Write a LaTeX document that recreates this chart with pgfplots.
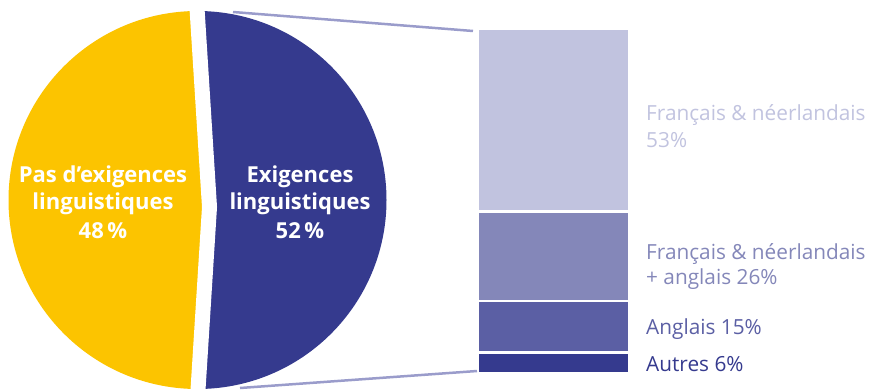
\documentclass[border=0pt]{standalone}
\usepackage{pgfplots}
\pgfplotsset{compat=1.18}
\usepackage{pgfplotstable}
\usepackage{fontspec}
\setmainfont{Open Sans}
\usetikzlibrary{calc}

\definecolor{jaune}{HTML}{FCC400}
\definecolor{bleu}{HTML}{353A8E}
\definecolor{b1}{HTML}{C1C3DF}
\definecolor{b2}{HTML}{8487B9}
\definecolor{b3}{HTML}{5B5FA4}
\definecolor{conn}{HTML}{9A9CCB}

\pgfplotstableread{
cat value
exig 52
pas 48
}\pietable
\pgfplotstableread{
x autres anglais fnang fn
0 6 15 26 53
}\bartable

\begin{document}
\begin{tikzpicture}
\path[use as bounding box] (0,0) rectangle (870pt,389pt);
\pgfplotstablegetelem{0}{value}\of\pietable
\pgfmathsetmacro{\half}{\pgfplotsretval*1.8}
\begin{axis}[at={(0,0)}, anchor=south west, width=870pt, height=389pt,
  scale only axis, xmin=0, xmax=870, ymin=0, ymax=389, hide axis, clip=false]
  \coordinate (C) at (axis cs:197.5,189);
  \coordinate (V) at (axis cs:209.5,182);
  \begin{scope}
    \clip (C) circle[radius=189pt];
    \fill[jaune] (V) -- ($(V)+(\half:600pt)$) -- ($(V)+(180:600pt)$) -- ($(V)+(-\half:600pt)$) -- cycle;
    \fill[bleu] (V) -- ($(V)+(\half:600pt)$) -- ($(V)+(0:600pt)$) -- ($(V)+(-\half:600pt)$) -- cycle;
  \end{scope}
  \draw[white, line width=15pt] ($(V)+(\half:300pt)$) -- (V) -- ($(V)+(-\half:300pt)$);

  \addplot[conn, line width=2.5pt] coordinates {(233,377) (473,358)};
  \addplot[conn, line width=2.5pt] coordinates {(240,1) (477,18)};

  \begin{scope}[every node/.style={text=white, font=\fontsize{22}{26}\selectfont\bfseries, anchor=base, inner sep=0pt}]
    \node at (axis cs:103,207) {Pas d’exigences};
    \node at (axis cs:103,180) {linguistiques};
    \node at (axis cs:103,151) {48\,\%};
    \node at (axis cs:300,207) {Exigences};
    \node at (axis cs:300,180) {linguistiques};
    \node at (axis cs:300,151) {52\,\%};
  \end{scope}

  \begin{scope}[every node/.style={font=\fontsize{20.8}{25}\selectfont, anchor=base west, inner sep=0pt}]
    \node[text=b1] at (axis cs:646,268.3) {Français \& néerlandais};
    \node[text=b1] at (axis cs:646,242) {53\%};
    \node[text=b2] at (axis cs:646,130) {Français \& néerlandais};
    \node[text=b2] at (axis cs:646,105) {+ anglais 26\%};
    \node[text=b3] at (axis cs:646,55) {Anglais 15\%};
    \node[text=bleu] at (axis cs:646,18) {Autres 6\%};
  \end{scope}
\end{axis}

\begin{axis}[at={(477.75pt,15.75pt)}, anchor=south west, width=151.5pt, height=344.5pt,
  scale only axis, hide axis, xmin=-0.5, xmax=0.5, ymin=0, ymax=100,
  ybar stacked, bar width=151.5pt, enlargelimits=false]
  \addplot[fill=bleu, draw=white, line width=2.5pt] table[x=x, y=autres] {\bartable};
  \addplot[fill=b3, draw=white, line width=2.5pt] table[x=x, y=anglais] {\bartable};
  \addplot[fill=b2, draw=white, line width=2.5pt] table[x=x, y=fnang] {\bartable};
  \addplot[fill=b1, draw=white, line width=2.5pt] table[x=x, y=fn] {\bartable};
\end{axis}
\end{tikzpicture}
\end{document}
